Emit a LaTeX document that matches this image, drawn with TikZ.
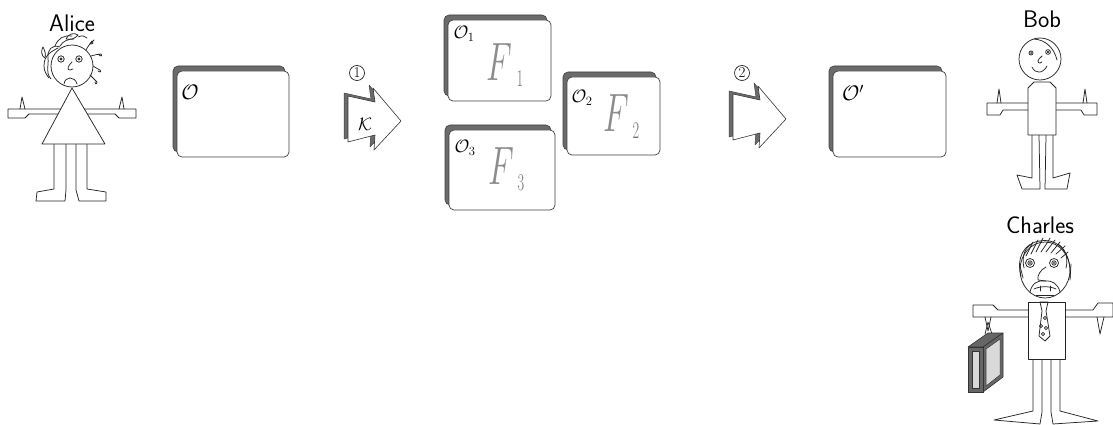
\RequirePackage{fix-cm}
\documentclass[tikz,border=0pt]{standalone}
\usepackage{amsmath}
\usepackage{graphicx}
\begin{document}
\begin{tikzpicture}[x=1pt,y=-1pt,
  figline/.style={draw=black!85, line width=0.75pt, line join=round, line cap=round},
  figfill/.style={figline, fill=white},
  sheetshadow/.style={fill=black!58, draw=black!75, line width=0.6pt, rounded corners=5pt},
  sheetfront/.style={fill=white, draw=black!75, line width=0.7pt, rounded corners=5pt},
  personname/.style={font=\sffamily\fontsize{24}{24}\selectfont, inner sep=0pt},
  objlabel/.style={font=\fontsize{21}{21}\selectfont, inner sep=0pt},
  sublabel/.style={font=\fontsize{18}{18}\selectfont, inner sep=0pt},
  bigF/.style={text=black!45, inner sep=0pt, font=\fontsize{54}{54}\selectfont},
  bigFsub/.style={text=black!55, inner sep=0pt, font=\fontsize{24}{24}\selectfont},
  stepnum/.style={circle, draw=black!85, line width=0.7pt, minimum size=15pt, inner sep=0pt, font=\fontsize{15}{15}\selectfont},
  zigarrow/.pic={
    % shadow copy, then the white arrow on top
    \filldraw[fill=black!58, draw=black!75, line width=0.5pt, line join=round]
      (-4,5) -- (23,11) -- (21,-3) -- (49,30) -- (22,59) -- (23,44) -- (-4,51) -- cycle;
    \filldraw[fill=white, draw=black!80, line width=0.6pt, line join=round]
      (0,8) -- (27,14) -- (25,0) -- (53,33) -- (26,62) -- (27,47) -- (0,54) -- cycle;
  }
]
\useasboundingbox (0,0) rectangle (1113,425);

% ---------- document sheets ----------
\newcommand\sheet[4]{%
  \draw[sheetshadow] (#1-4,#2-5) rectangle (#3-4,#4-5);
  \draw[sheetfront] (#1,#2) rectangle (#3,#4);}

\sheet{177}{71}{289}{157}
\node[objlabel] (o) at (190,92) {$\mathcal{O}$};

\sheet{448}{20}{551}{101}
\node[sublabel] (o1) at (464,34) {$\mathcal{O}_1$};
\node[bigF] (f1) at (499,62) {\scalebox{0.62}[1]{$F$}};
\node[bigFsub] (f1s) at (520,79) {\scalebox{0.6}[1]{1}};

\sheet{567}{77}{660}{155}
\node[sublabel] (o2) at (582,98) {$\mathcal{O}_2$};
\node[bigF] (f2) at (616,113) {\scalebox{0.62}[1]{$F$}};
\node[bigFsub] (f2s) at (636,131) {\scalebox{0.6}[1]{2}};

\sheet{449}{130}{555}{210}
\node[sublabel] (o3) at (465,148) {$\mathcal{O}_3$};
\node[bigF] (f3) at (501,166) {\scalebox{0.62}[1]{$F$}};
\node[bigFsub] (f3s) at (521,183) {\scalebox{0.6}[1]{3}};

\sheet{833}{71}{946}{157}
\node[objlabel] (op) at (853,93) {$\mathcal{O}'$};

% ---------- step arrows ----------
\pic at (348,88) {zigarrow};
\node[stepnum] (s1) at (357,73) {1};
\node[sublabel] (k) at (365,124) {$\mathcal{K}$};

\pic at (733,86) {zigarrow};
\node[stepnum] (s2) at (742,73) {2};

% ---------- Alice ----------
\node[personname] (alice) at (72,23) {Alice};
% arms
\draw[figfill] (62,109) -- (8,109) -- (8,118) -- (25,118) -- (29,114) -- (62,114);
\draw[figline] (20,109) -- (22,97) -- (25,109);
\draw[figfill] (82,109) -- (136,109) -- (136,118) -- (119,118) -- (115,114) -- (82,114);
\draw[figline] (124,109) -- (122,97) -- (119,109);
% legs and feet
\draw[figfill] (54,144) -- (54,189) -- (37,192) -- (36,201) -- (65,201) -- (66,190) -- (66,144);
\draw[figfill] (76,144) -- (76,190) -- (79,201) -- (106,201) -- (106,192) -- (87,189) -- (87,144);
% dress
\draw[figfill] (72,88) -- (105,144) -- (42,144) -- cycle;
% head
\draw[figfill] (72,66) circle (21);
\draw[figline] (61,59) circle (3.2);
\fill[black!80] (61,59) circle (1.6);
\draw[figline] (79,59) circle (3.2);
\fill[black!80] (79,59) circle (1.6);
\draw[figline] (72,62) .. controls (67,67) and (67,70) .. (70,70) -- (73,69);
\draw[figline] (64,84) .. controls (65,76) and (75,76) .. (77,84);
% hair
\draw[figline] (60,47) .. controls (52,44) and (47,50) .. (48,58) .. controls (49,66) and (45,72) .. (51,79);
\draw[figline] (58,48) .. controls (50,52) and (44,56) .. (44,66) .. controls (44,72) and (47,75) .. (49,78);
\draw[figline] (45,58) .. controls (41,56) and (41,50) .. (43,47) .. controls (45,51) and (46,54) .. (45,58);
\draw[figline] (55,46) .. controls (58,38) and (64,35) .. (72,36);
\draw[figline] (60,46) .. controls (63,41) and (68,39) .. (74,39);
\draw[figline] (66,39) .. controls (68,34) and (74,32) .. (78,35) .. controls (75,39) and (70,40) .. (66,39);
\draw[figline] (78,37) .. controls (82,35) and (85,36) .. (87,38);
\draw[figline] (86,50) .. controls (88,46) and (90,44) .. (92,41) .. controls (94,42) and (93,45) .. (91,44);
\draw[figline] (91,56) .. controls (95,55) and (98,54) .. (101,54) .. controls (103,56) and (100,57) .. (99,55);
\draw[figline] (93,66) .. controls (96,68) and (98,69) .. (100,70) .. controls (102,72) and (99,73) .. (98,71);
\draw[figline] (90,75) .. controls (93,78) and (95,80) .. (97,82) .. controls (97,85) and (94,84) .. (95,82);
\draw[figline] (90,44) -- (94,40);

% ---------- Bob ----------
\node[personname] (bob) at (1042,19) {Bob};
% arms
\draw[figfill] (1030,103) -- (987,103) -- (987,115) -- (1000,115) -- (1003,110) -- (1030,110);
\draw[figline] (997,103) -- (999,89) -- (1001,103);
\draw[figfill] (1054,103) -- (1097,103) -- (1097,115) -- (1084,115) -- (1081,110) -- (1054,110);
\draw[figline] (1083,103) -- (1085,89) -- (1087,103);
% legs and feet
\draw[figfill] (1032,135) -- (1032,178) -- (1017,175) -- (1022,189) -- (1040,189) -- (1039,135);
\draw[figfill] (1046,135) -- (1045,189) -- (1067,189) -- (1070,173) -- (1053,178) -- (1053,135);
% body
\draw[figfill] (1034,82) -- (1050,82) -- (1056,88) -- (1056,135) -- (1028,135) -- (1028,88) -- cycle;
% head
\draw[figfill] (1040,59) circle (21);
\draw[figline] (1034,39) .. controls (1046,40) and (1054,48) .. (1057,60);
\draw[figline] (1031,53) circle (2);
\fill[black!80] (1031,53) circle (1);
\draw[figline] (1048,52) circle (2.4);
\fill[black!80] (1048,52) circle (1.4);
\draw[figline] (1042,56) .. controls (1037,60) and (1037,63) .. (1040,63) -- (1042,62);
\draw[figline] (1032,67) .. controls (1035,74) and (1043,74) .. (1047,66);

% ---------- Charles ----------
\node[personname] (charles) at (1040,225) {Charles};
% arms
\draw[figfill] (1030,310) -- (998,310) -- (993,305) -- (973,305) -- (973,317) -- (1030,317);
\draw[figline] (985,317) -- (988,331) -- (991,317);
\draw[figfill] (1063,310) -- (1093,310) -- (1098,303) -- (1113,303) -- (1113,317) -- (1063,317);
\draw[figline] (1097,317) -- (1100,334) -- (1104,317);
% legs and feet
\draw[figfill] (1033,359) -- (1033,411) -- (994,420) -- (1040,424) -- (1042,412) -- (1042,359);
\draw[figfill] (1051,359) -- (1051,412) -- (1053,424) -- (1098,421) -- (1060,411) -- (1060,359);
% body with tie
\draw[figfill] (1028,302) rectangle (1065,359);
\draw[figline] (1040,302) -- (1048,302) -- (1046,311) -- (1050,336) -- (1045,341) -- (1039,336) -- (1042,311) -- cycle;
\draw[figline] (1045,318) circle (1.6);
\draw[figline] (1041,326) circle (1.6);
\draw[figline] (1046,328) circle (1.6);
\draw[figline] (1043,334) circle (1.6);
% briefcase
\draw[figline] (985,334) -- (988,322) -- (992,334);
\filldraw[fill=black!60, draw=black!80, line width=0.6pt, line join=round]
  (968,347) -- (988,333) -- (1003,333) -- (983,347) -- cycle;
\filldraw[fill=black!60, draw=black!80, line width=0.6pt, line join=round]
  (983,347) -- (1003,333) -- (1003,377) -- (983,392) -- cycle;
\filldraw[fill=black!15, draw=black!80, line width=0.5pt]
  (986,349) -- (1000,339) -- (1000,375) -- (986,386) -- cycle;
\filldraw[fill=black!60, draw=black!80, line width=0.6pt] (968,347) rectangle (983,392);
\filldraw[fill=black!15, draw=black!80, line width=0.5pt] (972,351) rectangle (979,388);
% head
\draw[figfill] (1045,270) ellipse [x radius=25, y radius=28];
\draw[figline] (1030,263) circle (4.5);
\draw[figline] (1030,263) circle (2.2);
\fill[black!70] (1030,263) circle (1.2);
\draw[figline] (1054,263) circle (4.5);
\draw[figline] (1054,263) circle (2.2);
\fill[black!70] (1054,263) circle (1.2);
\draw[figline] (1046,267) .. controls (1040,270) and (1037,276) .. (1038,280) -- (1046,281);
\draw[figline] (1030,292) .. controls (1032,283) and (1038,280) .. (1045,281) .. controls (1052,280) and (1058,284) .. (1060,292);
\draw[figline] (1034,289) .. controls (1040,286) and (1050,286) .. (1056,289);
\draw[figline] (1040,286) -- (1040,291);
\draw[figline] (1050,286) -- (1050,291);
\draw[figline] (1036,295) -- (1054,295);
% hair
\draw[figline] (1021,276) .. controls (1016,258) and (1024,243) .. (1040,241);
\draw[figline] (1040,241) .. controls (1056,238) and (1072,250) .. (1070,278);
\draw[figline] (1024,268) .. controls (1021,255) and (1026,247) .. (1032,244);
\draw[figline] (1066,268) .. controls (1069,256) and (1064,248) .. (1058,244);
\draw[figline] (1026,256) -- (1033,242);
\draw[figline] (1031,254) -- (1038,240);
\draw[figline] (1036,252) -- (1043,238);
\draw[figline] (1041,252) .. controls (1045,246) and (1048,242) .. (1050,238);
\draw[figline] (1046,252) -- (1055,240);
\draw[figline] (1051,253) -- (1060,242);
\draw[figline] (1056,254) -- (1065,246);
\draw[figline] (1061,258) -- (1068,252);
\draw[figline] (1020,266) -- (1023,278);
\draw[figline] (1071,264) -- (1070,280);
\end{tikzpicture}
\end{document}
